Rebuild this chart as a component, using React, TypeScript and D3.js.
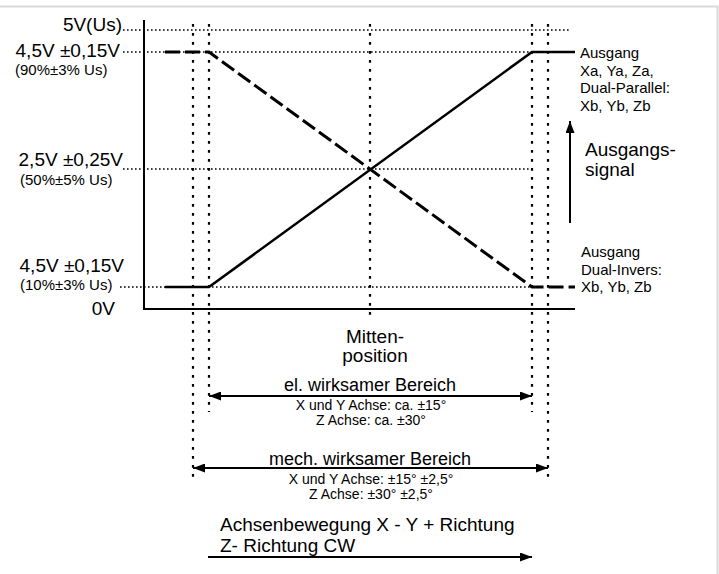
import * as d3 from 'd3';
import { useEffect, useRef } from 'react';

const W = 719;
const H = 574;
const FONT = '"Liberation Sans", Arial, sans-serif';

// output levels (volt) that get a dotted guide
const guideLevels = [5, 4.5, 2.5, 0.5];
// lever positions (degrees) that get a dotted guide
const guidePositions = [-17.5, -15, 0, 15, 17.5];

// output curves: lever position in degrees -> output in volt
const curvePos = [-22, -15, 15, 22];
const parallelVolt = [0.5, 0.5, 4.5, 4.5];
const inversVolt = [4.5, 4.5, 0.5, 0.5];

// left labels
const levelLabels = ['5V(Us)', '4,5V ±0,15V', '2,5V ±0,25V', '4,5V ±0,15V', '0V'];
const levelLabelVolt = [5, 4.5, 2.5, 0.5, 0];
const levelSubLabels = ['', '(90%±3% Us)', '(50%±5% Us)', '(10%±3% Us)', ''];

// right labels
const parallelLabel = ['Ausgang', 'Xa, Ya, Za,', 'Dual-Parallel:', 'Xb, Yb, Zb'];
const inversLabel = ['Ausgang', 'Dual-Invers:', 'Xb, Yb, Zb'];
const signalLabel = ['Ausgangs-', 'signal'];

// bottom labels
const centerLabel = ['Mitten-', 'position'];
const elRange = [-15, 15];
const elLabel = 'el. wirksamer Bereich';
const elNotes = ['X und Y Achse: ca. ±15°', 'Z Achse: ca. ±30°'];
const mechRange = [-17.5, 17.5];
const mechLabel = 'mech. wirksamer Bereich';
const mechNotes = ['X und Y Achse: ±15° ±2,5°', 'Z Achse: ±30° ±2,5°'];
const moveLabel = ['Achsenbewegung X - Y + Richtung', 'Z- Richtung CW'];

const App = () => {
    const svgRef = useRef<SVGSVGElement>(null);

    useEffect(() => {
        const svg = d3.select(svgRef.current);
        svg.selectAll('*').remove();

        const y = d3.scaleLinear()
            .domain([0, 0.5, 2.5, 4.5, 5])
            .range([309, 287, 169, 52, 30]);
        const x = d3.scaleLinear()
            .domain([-24.5, -22, -17.5, -15, 0, 15, 17.5, 22])
            .range([144, 165, 193, 209, 370, 532, 548, 575]);

        const defs = svg.append('defs');
        defs.append('marker')
            .attr('id', 'head')
            .attr('viewBox', '0 0 12 9')
            .attr('refX', 12).attr('refY', 4.5)
            .attr('markerUnits', 'userSpaceOnUse')
            .attr('markerWidth', 12).attr('markerHeight', 9)
            .attr('orient', 'auto-start-reverse')
            .append('path').attr('d', 'M0,0L12,4.5L0,9Z').attr('fill', '#000');

        // frame of the screenshot
        svg.append('path')
            .attr('d', `M0,6.5H717.5V${H}`)
            .attr('fill', 'none').attr('stroke', '#d9d9d9').attr('stroke-width', 2);

        // dotted horizontal guides
        const hEnd: Record<number, number> = { 5: 570, 4.5: 532, 2.5: 532, 0.5: 532 };
        const hStart: Record<number, number> = { 5: 123, 4.5: 123, 2.5: 123, 0.5: 120 };
        svg.selectAll('.hguide')
            .data(guideLevels)
            .enter()
            .append('line')
            .attr('x1', d => hStart[d]).attr('x2', d => hEnd[d])
            .attr('y1', d => y(d)).attr('y2', d => y(d))
            .attr('stroke', '#000').attr('stroke-width', 1.5)
            .attr('stroke-dasharray', '1.6,2.4');

        // dotted vertical guides
        const vEnd = (d: number) => Math.abs(d) === 17.5 ? 478 : Math.abs(d) === 15 ? 412 : 318;
        svg.selectAll('.vguide')
            .data(guidePositions)
            .enter()
            .append('line')
            .attr('x1', d => x(d)).attr('x2', d => x(d))
            .attr('y1', 24).attr('y2', d => vEnd(d))
            .attr('stroke', '#000').attr('stroke-width', 2.2)
            .attr('stroke-dasharray', '2.8,6.2');

        // axes
        svg.append('path')
            .attr('d', `M${x(-24.5)},20V${y(0)}H${x(22)}`)
            .attr('fill', 'none').attr('stroke', '#000').attr('stroke-width', 2);

        const line = d3.line<number>()
            .x((_, i) => x(curvePos[i]))
            .y(d => y(d));

        svg.append('path')
            .attr('d', line(parallelVolt))
            .attr('fill', 'none').attr('stroke', '#000').attr('stroke-width', 2.6);
        svg.append('path')
            .attr('d', line(inversVolt))
            .attr('fill', 'none').attr('stroke', '#000').attr('stroke-width', 3)
            .attr('stroke-dasharray', '15,5');

        const text = (t: string, tx: number, ty: number, size: number, anchor = 'start') =>
            svg.append('text')
                .attr('x', tx).attr('y', ty)
                .attr('font-family', FONT).attr('font-size', size)
                .attr('text-anchor', anchor).attr('fill', '#000')
                .text(t);

        // left labels
        const labelDy = [1, 5, -3, -15, 6];
        const labelX = [122, 120, 123, 124, 115];
        const subDy = [0, 23, 15.5, 3, 0];
        levelLabels.forEach((t, i) => {
            text(t, labelX[i], y(levelLabelVolt[i]) + labelDy[i], 19, 'end');
            if (levelSubLabels[i]) {
                text(levelSubLabels[i], i === 1 ? 15 : 20, y(levelLabelVolt[i]) + subDy[i], 15);
            }
        });

        // right labels
        parallelLabel.forEach((t, i) => text(t, 580, y(4.5) + 6 + i * 17.5, 15));
        inversLabel.forEach((t, i) => text(t, 581, y(0.5) - 30 + i * 17.5, 15));
        signalLabel.forEach((t, i) => text(t, 585, 156 + i * 20, 19));
        svg.append('line')
            .attr('x1', 570).attr('x2', 570)
            .attr('y1', 223).attr('y2', 121)
            .attr('stroke', '#000').attr('stroke-width', 2)
            .attr('marker-end', 'url(#head)');

        // centre and ranges
        centerLabel.forEach((t, i) => text(t, 375, 343 + i * 19, 19, 'middle'));

        text(elLabel, 370, 391, 18, 'middle');
        svg.append('line')
            .attr('x1', x(elRange[0])).attr('x2', x(elRange[1]))
            .attr('y1', 396).attr('y2', 396)
            .attr('stroke', '#000').attr('stroke-width', 2)
            .attr('marker-start', 'url(#head)').attr('marker-end', 'url(#head)');
        elNotes.forEach((t, i) => text(t, 371, 410 + i * 15, 14, 'middle'));

        text(mechLabel, 370, 465, 18, 'middle');
        svg.append('line')
            .attr('x1', x(mechRange[0])).attr('x2', x(mechRange[1]))
            .attr('y1', 468).attr('y2', 468)
            .attr('stroke', '#000').attr('stroke-width', 2)
            .attr('marker-start', 'url(#head)').attr('marker-end', 'url(#head)');
        mechNotes.forEach((t, i) => text(t, 371, 484 + i * 15, 14, 'middle'));

        moveLabel.forEach((t, i) => text(t, 220, 531 + i * 21, 19));
        svg.append('line')
            .attr('x1', 208).attr('x2', 532)
            .attr('y1', 557).attr('y2', 557)
            .attr('stroke', '#000').attr('stroke-width', 2)
            .attr('marker-end', 'url(#head)');
    }, []);

    return (
        <svg ref={svgRef} width={W} height={H}
            style={{ position: 'absolute', left: 0, top: 0, background: '#fff' }} />
    );
};

export default App;
